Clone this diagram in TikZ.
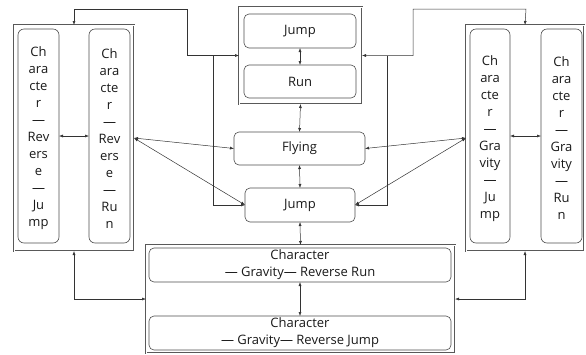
\documentclass[tikz,border=0pt]{standalone}
\usepackage{fontspec}
\setmainfont{Open Sans}
\usetikzlibrary{arrows.meta}
\begin{document}
\begin{tikzpicture}[x=1pt,y=-1pt,
  every node/.style={font=\fontsize{13}{17}\selectfont, text=black!90, inner sep=0pt, outer sep=0pt, align=center},
  inbox/.style={draw=black!70, line width=0.6pt, rounded corners=5pt},
  sidebox/.style={draw=black!70, line width=0.6pt, rounded corners=6pt},
  outbox/.style={draw=black!65, line width=0.5pt, double, double distance=0.8pt},
  conn/.style={draw=black!80, line width=0.5pt},
  tip/.style={-{Latex[length=4pt,width=3pt]}},
  tips/.style={{Latex[length=4pt,width=3pt]}-{Latex[length=4pt,width=3pt]}}
]
\useasboundingbox (0,0) rectangle (586,354);

% left group
\node[outbox, minimum width=120pt, minimum height=226pt] (lo) at (74,138) {};
\node[sidebox, minimum width=41pt, minimum height=214pt] (ll) at (38.5,136) {};
\node[sidebox, minimum width=41pt, minimum height=214pt] (lr) at (109.5,136) {};
\node (llt) at (38.5,138.5) {Ch\\ara\\cte\\r\\—\\Rev\\ers\\e\\—\\Ju\\mp};
\node (lrt) at (109.5,138.5) {Ch\\ara\\cte\\r\\—\\Rev\\ers\\e\\—\\Ru\\n};

% right group
\node[outbox, minimum width=118pt, minimum height=226pt] (ro) at (525,138) {};
\node[sidebox, minimum width=40pt, minimum height=214pt] (rl) at (490,136) {};
\node[sidebox, minimum width=41pt, minimum height=214pt] (rr) at (561.5,136) {};
\node (rlt) at (490,138.5) {Ch\\ara\\cte\\r\\—\\Gra\\vity\\—\\Ju\\mp};
\node (rrt) at (561.5,138.5) {Ch\\ara\\cte\\r\\—\\Gra\\vity\\—\\Ru\\n};

% top group
\node[outbox, minimum width=123pt, minimum height=97pt] (top) at (300.5,55.5) {};
\node[inbox, minimum width=112pt, minimum height=34pt] (jt) at (300,31) {Jump};
\node[inbox, minimum width=112pt, minimum height=33pt] (run) at (300,81.5) {Run};

% middle
\node[inbox, minimum width=131pt, minimum height=33pt] (fly) at (299.5,148.5) {Flying};
\node[inbox, minimum width=110pt, minimum height=34pt] (j2) at (300,205) {Jump};

% bottom group
\node[outbox, minimum width=309pt, minimum height=108pt] (bo) at (300.5,299) {};
\node[inbox, minimum width=302pt, minimum height=34pt] (b1) at (300,265) {Character\\— Gravity— Reverse Run};
\node[inbox, minimum width=302pt, minimum height=34pt] (b2) at (300,333) {Character\\— Gravity— Reverse Jump};

% coordinates
\coordinate (a1) at (74,9);
\coordinate (a2) at (187,9);
\coordinate (a3) at (526,9);
\coordinate (a4) at (413,9);
\coordinate (s1) at (213,55.5);
\coordinate (s2) at (387,55.5);

% connectors
\draw[conn,tips] (lo.north) -- (a1) -- (a2) |- (top.west);
\draw[conn,tip] (s1) |- (j2.west);
\draw[conn,tips] (ro.north) -- (a3) -- (a4) |- (top.east);
\draw[conn,tip] (s2) |- (j2.east);

\draw[conn,tips] (lo.south) |- (bo.west);
\draw[conn,tips] (ro.south) |- (bo.east);

\draw[conn,tips] (jt.south) -- (run.north);
\draw[conn,tips] (top.south) -- (fly.north);
\draw[conn,tips] (fly.south) -- (j2.north);
\draw[conn,tips] (j2.south) -- (bo.north);
\draw[conn,tips] (b1.south) -- (b2.north);

\draw[conn,tips] (ll.east) -- (lr.west);
\draw[conn,tips] (rl.east) -- (rr.west);

\draw[conn,tips] (lo.east) -- (fly.west);
\draw[conn,tips] (lo.east) -- (j2.west);
\draw[conn,tips] (ro.west) -- (fly.east);
\draw[conn,tips] (ro.west) -- (j2.east);
\end{tikzpicture}
\end{document}
